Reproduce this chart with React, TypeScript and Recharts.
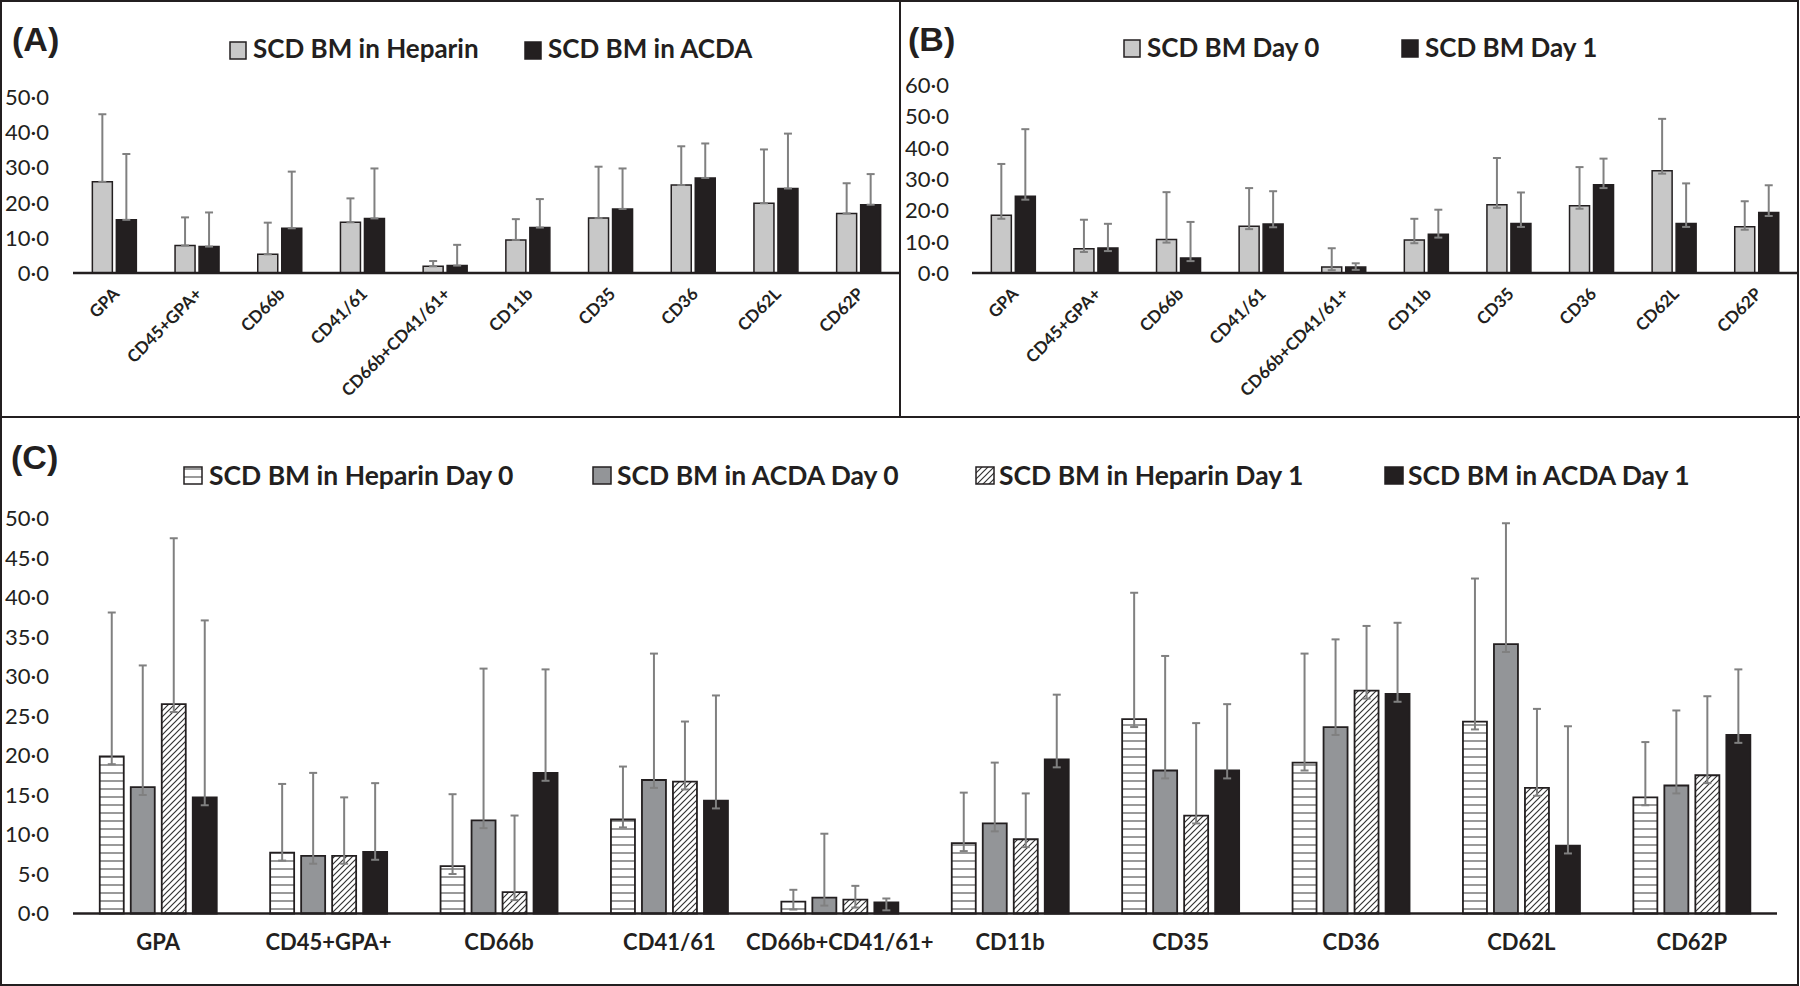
import React from 'react';
import { BarChart, Bar, XAxis, YAxis, ErrorBar, Legend } from 'recharts';

// ---------- categories ----------
const categories = ['GPA', 'CD45+GPA+', 'CD66b', 'CD41/61', 'CD66b+CD41/61+', 'CD11b', 'CD35', 'CD36', 'CD62L', 'CD62P'];

// ---------- Panel A ----------
const seriesNamesA = ['SCD BM in Heparin', 'SCD BM in ACDA'];
const aHeparin = [25.9, 7.8, 5.3, 14.4, 1.9, 9.4, 15.6, 25.0, 19.8, 16.9];
const aHeparinSd = [19.2, 8.0, 9.0, 6.8, 1.5, 5.9, 14.6, 11.0, 15.3, 8.6];
const aAcda = [15.1, 7.5, 12.7, 15.5, 2.1, 12.9, 18.2, 27.0, 24.0, 19.4];
const aAcdaSd = [18.7, 9.7, 16.1, 14.2, 5.9, 8.1, 11.5, 9.8, 15.6, 8.7];
const ticksA = [0, 10, 20, 30, 40, 50];

// ---------- Panel B ----------
const seriesNamesB = ['SCD BM Day 0', 'SCD BM Day 1'];
const bDay0 = [18.4, 7.7, 10.7, 14.9, 1.9, 10.5, 21.8, 21.5, 32.6, 14.8];
const bDay0Sd = [16.4, 9.3, 15.1, 12.2, 6.0, 6.8, 14.9, 12.3, 16.6, 8.1];
const bDay0Low = [1.1, 1.0, 1.0, 0.9, 1.0, 1.0, 1.0, 1.0, 0.9, 1.0];
const bDay1 = [24.5, 8.0, 4.8, 15.6, 1.9, 12.4, 15.8, 28.2, 15.8, 19.3];
const bDay1Sd = [21.4, 7.7, 11.5, 10.5, 1.2, 7.8, 9.9, 8.3, 12.8, 8.7];
const bDay1Low = [1.1, 1.0, 1.0, 1.0, 0.9, 1.1, 1.1, 1.1, 1.1, 1.1];
const ticksB = [0, 10, 20, 30, 40, 50, 60];

// ---------- Panel C ----------
const seriesNamesC = ['SCD BM in Heparin Day 0', 'SCD BM in ACDA Day 0', 'SCD BM in Heparin Day 1', 'SCD BM in ACDA Day 1'];
const cHepD0 = [19.9, 7.7, 6.0, 11.9, 1.5, 8.9, 24.6, 19.1, 24.3, 14.7];
const cHepD0Sd = [18.2, 8.7, 9.1, 6.7, 1.5, 6.4, 16.0, 13.8, 18.1, 7.0];
const cAcdaD0 = [16.0, 7.3, 11.8, 16.9, 2.0, 11.4, 18.1, 23.6, 34.1, 16.2];
const cAcdaD0Sd = [15.4, 10.5, 19.2, 16.0, 8.1, 7.7, 14.5, 11.1, 15.3, 9.5];
const cHepD1 = [26.5, 7.3, 2.7, 16.7, 1.75, 9.4, 12.4, 28.2, 15.9, 17.5];
const cHepD1Sd = [21.0, 7.4, 9.7, 7.6, 1.75, 5.8, 11.7, 8.2, 10.0, 10.0];
const cAcdaD1 = [14.7, 7.8, 17.8, 14.3, 1.4, 19.5, 18.1, 27.8, 8.6, 22.6];
const cAcdaD1Sd = [22.4, 8.7, 13.1, 13.3, 0.5, 8.2, 8.4, 9.0, 15.1, 8.3];
const cLow = [1.0, 1.0, 1.0, 1.0, 1.0, 1.0, 1.0, 1.0, 1.0, 1.0];
const ticksC = [0, 5, 10, 15, 20, 25, 30, 35, 40, 45, 50];

const dataA = categories.map((name, i) => ({
  name,
  hep: aHeparin[i],
  hepErr: [0, aHeparinSd[i]],
  acda: aAcda[i],
  acdaErr: [0, aAcdaSd[i]],
}));

const dataB = categories.map((name, i) => ({
  name,
  d0: bDay0[i],
  d0Err: [bDay0Low[i], bDay0Sd[i]],
  d1: bDay1[i],
  d1Err: [bDay1Low[i], bDay1Sd[i]],
}));

const dataC = categories.map((name, i) => ({
  name,
  h0: cHepD0[i],
  h0Err: [cLow[i], cHepD0Sd[i]],
  a0: cAcdaD0[i],
  a0Err: [cLow[i], cAcdaD0Sd[i]],
  h1: cHepD1[i],
  h1Err: [cLow[i], cHepD1Sd[i]],
  a1: cAcdaD1[i],
  a1Err: [cLow[i], cAcdaD1Sd[i]],
}));

const FONT = "Lato, 'Open Sans', sans-serif";
const INK = '#231f20';
const ERR = '#808080';
const fmt = (v: number) => v.toFixed(1).replace('.', '\u00B7');

const YTick = (props: any) => {
  const { y, payload } = props;
  return (
    <text x={49} y={y} dy="0.36em" textAnchor="end" fontSize={22} fontFamily={FONT} fill={INK}>
      {fmt(payload.value)}
    </text>
  );
};

const RotTick = (props: any) => {
  const { x, y, payload } = props;
  return (
    <text
      transform={`translate(${x + 6},${y + 22}) rotate(-45)`}
      textAnchor="end"
      fontSize={17}
      fontWeight={700}
      fontFamily={FONT}
      fill={INK}
    >
      {payload.value}
    </text>
  );
};

const FlatTick = (props: any) => {
  const { x, y, payload } = props;
  return (
    <text x={x} y={y + 36} textAnchor="middle" fontSize={22} fontWeight={700} fontFamily={FONT} fill={INK}>
      {payload.value}
    </text>
  );
};

const makeLegend =
  (names: string[], pos: number[][], boxY: number, boxW: number, boxH: number, baseline: number, fontSize: number) =>
  (props: any) => {
    const payload = [...(props.payload || [])].sort(
      (a: any, b: any) => names.indexOf(a.value) - names.indexOf(b.value)
    );
    return (
      <svg width={10} height={10} style={{ position: 'absolute', left: 0, top: 0, overflow: 'visible' }}>
        {payload.map((p: any, i: number) => (
          <g key={i}>
            <rect x={pos[i][0]} y={boxY} width={boxW} height={boxH} fill={p.color} stroke={INK} strokeWidth={1.5} />
            <text x={pos[i][1]} y={baseline} fontSize={fontSize} fontWeight={700} fontFamily={FONT} fill={INK}>
              {p.value}
            </text>
          </g>
        ))}
      </svg>
    );
  };

const legendWrap: React.CSSProperties = { position: 'absolute', left: 0, top: 0, width: 0, height: 0, overflow: 'visible' };

const legendA = makeLegend(seriesNamesA, [[230, 253], [525, 548]], 42, 16, 17, 58, 26);
const legendB = makeLegend(seriesNamesB, [[224, 247], [502, 525]], 40, 16, 17, 57, 26);
const legendC = makeLegend(seriesNamesC, [[184, 209], [593, 617], [976, 999], [1385, 1408]], 50, 18, 17, 68, 26.5);

export default function App() {
  return (
    <div style={{ position: 'absolute', left: 0, top: 0, width: 1800, height: 986, background: '#fff', fontFamily: FONT }}>
      <svg width={0} height={0} style={{ position: 'absolute' }}>
        <defs>
          <pattern id="hstripe" patternUnits="userSpaceOnUse" width={8} height={8}>
            <rect width={8} height={8} fill="#ffffff" />
            <rect y={3} width={8} height={2} fill="#9a9a9a" />
          </pattern>
          <pattern id="diag" patternUnits="userSpaceOnUse" width={6} height={6}>
            <rect width={6} height={6} fill="#ffffff" />
            <path d="M-1,1 l2,-2 M0,6 l6,-6 M5,7 l2,-2" stroke="#333333" strokeWidth={1.2} />
          </pattern>
        </defs>
      </svg>

      {/* Panel A */}
      <div style={{ position: 'absolute', left: 0, top: 0 }}>
        <BarChart width={900} height={417} data={dataA} margin={{ top: 97, right: 0, bottom: 0, left: 0 }} barCategoryGap="23.4%" barGap={4}>
          <XAxis dataKey="name" height={144} interval={0} tickLine={false} tickSize={0} tickMargin={0} axisLine={{ stroke: INK, strokeWidth: 2.5 }} tick={<RotTick />} />
          <YAxis width={73} domain={[0, 50]} ticks={ticksA} axisLine={false} tickLine={false} tick={<YTick />} />
          <Legend content={legendA} wrapperStyle={legendWrap} />
          <Bar dataKey="hep" name={seriesNamesA[0]} fill="#c8c8c8" stroke={INK} strokeWidth={1.5} isAnimationActive={false}>
            <ErrorBar dataKey="hepErr" direction="y" width={4} stroke={ERR} strokeWidth={2} isAnimationActive={false} />
          </Bar>
          <Bar dataKey="acda" name={seriesNamesA[1]} fill={INK} stroke={INK} strokeWidth={1.5} isAnimationActive={false}>
            <ErrorBar dataKey="acdaErr" direction="y" width={4} stroke={ERR} strokeWidth={2} isAnimationActive={false} />
          </Bar>
        </BarChart>
      </div>

      {/* Panel B */}
      <div style={{ position: 'absolute', left: 900, top: 0 }}>
        <BarChart width={900} height={417} data={dataB} margin={{ top: 85, right: 2, bottom: 0, left: 0 }} barCategoryGap="23.4%" barGap={4}>
          <XAxis dataKey="name" height={144} interval={0} tickLine={false} tickSize={0} tickMargin={0} axisLine={{ stroke: INK, strokeWidth: 2.5 }} tick={<RotTick />} />
          <YAxis width={72} domain={[0, 60]} ticks={ticksB} axisLine={false} tickLine={false} tick={<YTick />} />
          <Legend content={legendB} wrapperStyle={legendWrap} />
          <Bar dataKey="d0" name={seriesNamesB[0]} fill="#c8c8c8" stroke={INK} strokeWidth={1.5} isAnimationActive={false}>
            <ErrorBar dataKey="d0Err" direction="y" width={4} stroke={ERR} strokeWidth={2} isAnimationActive={false} />
          </Bar>
          <Bar dataKey="d1" name={seriesNamesB[1]} fill={INK} stroke={INK} strokeWidth={1.5} isAnimationActive={false}>
            <ErrorBar dataKey="d1Err" direction="y" width={4} stroke={ERR} strokeWidth={2} isAnimationActive={false} />
          </Bar>
        </BarChart>
      </div>

      {/* Panel C */}
      <div style={{ position: 'absolute', left: 0, top: 417 }}>
        <BarChart width={1800} height={569} data={dataC} margin={{ top: 101.5, right: 23, bottom: 0, left: 0 }} barCategoryGap="15.7%" barGap={7}>
          <XAxis dataKey="name" height={72.5} interval={0} tickLine={false} tickSize={0} tickMargin={0} axisLine={{ stroke: INK, strokeWidth: 2.5 }} tick={<FlatTick />} />
          <YAxis width={73} domain={[0, 50]} ticks={ticksC} axisLine={false} tickLine={false} tick={<YTick />} />
          <Legend content={legendC} wrapperStyle={legendWrap} />
          <Bar dataKey="h0" name={seriesNamesC[0]} fill="url(#hstripe)" stroke={INK} strokeWidth={1.8} isAnimationActive={false}>
            <ErrorBar dataKey="h0Err" direction="y" width={4} stroke={ERR} strokeWidth={2} isAnimationActive={false} />
          </Bar>
          <Bar dataKey="a0" name={seriesNamesC[1]} fill="#939598" stroke={INK} strokeWidth={1.8} isAnimationActive={false}>
            <ErrorBar dataKey="a0Err" direction="y" width={4} stroke={ERR} strokeWidth={2} isAnimationActive={false} />
          </Bar>
          <Bar dataKey="h1" name={seriesNamesC[2]} fill="url(#diag)" stroke={INK} strokeWidth={1.8} isAnimationActive={false}>
            <ErrorBar dataKey="h1Err" direction="y" width={4} stroke={ERR} strokeWidth={2} isAnimationActive={false} />
          </Bar>
          <Bar dataKey="a1" name={seriesNamesC[3]} fill={INK} stroke={INK} strokeWidth={1.8} isAnimationActive={false}>
            <ErrorBar dataKey="a1Err" direction="y" width={4} stroke={ERR} strokeWidth={2} isAnimationActive={false} />
          </Bar>
        </BarChart>
      </div>

      {/* frame and panel letters */}
      <svg width={1800} height={986} style={{ position: 'absolute', left: 0, top: 0, pointerEvents: 'none' }}>
        <rect x={1} y={1} width={1797} height={984} fill="none" stroke={INK} strokeWidth={2} />
        <line x1={900} y1={0} x2={900} y2={417} stroke={INK} strokeWidth={2} />
        <line x1={0} y1={417} x2={1800} y2={417} stroke={INK} strokeWidth={2} />
        <text x={12} y={51} fontSize={34} fontWeight={700} fontFamily="'Liberation Sans', Arial, sans-serif" fill={INK}>(A)</text>
        <text x={908} y={51} fontSize={34} fontWeight={700} fontFamily="'Liberation Sans', Arial, sans-serif" fill={INK}>(B)</text>
        <text x={11} y={469} fontSize={34} fontWeight={700} fontFamily="'Liberation Sans', Arial, sans-serif" fill={INK}>(C)</text>
      </svg>
    </div>
  );
}
